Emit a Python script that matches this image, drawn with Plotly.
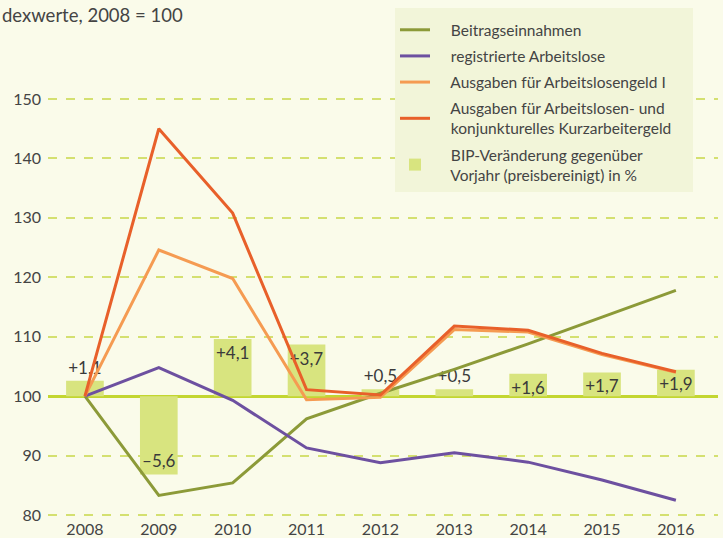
import plotly.graph_objects as go

years = [2008, 2009, 2010, 2011, 2012, 2013, 2014, 2015, 2016]
beitrag = [100, 83.3, 85.4, 96.2, 100.5, 104.5, 108.8, 113.3, 117.8]
arbeitslose = [100, 104.8, 99.3, 91.3, 88.8, 90.5, 88.9, 85.9, 82.5]
alg1 = [100, 124.6, 119.8, 99.4, 99.8, 111.2, 110.8, 107.0, 104.0]
alg_kug = [100, 145.0, 130.8, 101.1, 100.2, 111.8, 111.1, 107.2, 104.1]
bip = [1.1, -5.6, 4.1, 3.7, 0.5, 0.5, 1.6, 1.7, 1.9]
bip_labels = ["+1,1", "–5,6", "+4,1", "+3,7", "+0,5", "+0,5", "+1,6", "+1,7", "+1,9"]
bip_textpos = ["outside", "inside", "inside", "inside", "outside", "outside", "inside", "inside", "inside"]
y_ticks = [80, 90, 100, 110, 120, 130, 140, 150]

FONT = "Lato"
TXT = "#444444"
BG = "#fafbea"
K = 2.35  # index points per % of BIP bar
Y_RANGE = [79.0, 166.66]
PLOT_H = 521
PLOT_W = 670
PAD = "\u00a0" * 4
TAIL = "\u00a0" * 4

fig = go.Figure()

fig.add_trace(go.Bar(
    x=years, y=bip, yaxis="y",
    name=PAD + "BIP-Veränderung gegenüber<br>" + PAD + "Vorjahr (preisbereinigt) in %",
    marker=dict(color="#d8e47f", line=dict(width=0)), width=0.51,
    text=bip_labels, textposition=bip_textpos, insidetextanchor="end",
    constraintext="none", cliponaxis=False, textangle=0,
    textfont=dict(family=FONT, size=17, color="#3a3a3a"),
    legendrank=5, legendgroup="e", hoverinfo="skip",
))

lines = [
    ("Beitragseinnahmen", beitrag, "#8c9a38", 1, "a"),
    ("registrierte Arbeitslose", arbeitslose, "#6d50a0", 2, "b"),
    ("Ausgaben für Arbeitslosengeld I", alg1, "#f59b52", 3, "c"),
    ("Ausgaben für Arbeitslosen- und<br>" + PAD + "konjunkturelles Kurzarbeitergeld" + TAIL, alg_kug, "#e8602a", 4, "d"),
]
for name, vals, col, rank, grp in lines:
    fig.add_trace(go.Scatter(
        x=years, y=vals, yaxis="y2", name=PAD + name, mode="lines",
        line=dict(color=col, width=3), legendrank=rank, legendgroup=grp,
        hoverinfo="skip",
    ))

fig.update_layout(
    width=723, height=538,
    margin=dict(l=48, r=5, t=0, b=538 - PLOT_H),
    paper_bgcolor=BG, plot_bgcolor=BG,
    font=dict(family=FONT, size=15, color=TXT),
    showlegend=True,
    barmode="overlay",
    xaxis=dict(range=[2007.5, 2016.57], tickvals=years, ticktext=[str(y) for y in years],
               showgrid=False, zeroline=False, showline=False, ticks="",
               tickfont=dict(size=16, color=TXT), fixedrange=True, automargin=False,
               ticklabelstandoff=-3),
    yaxis=dict(range=[(Y_RANGE[0] - 100) / K, (Y_RANGE[1] - 100) / K],
               showgrid=False, showticklabels=False, ticks="", showline=False,
               zeroline=True, zerolinecolor="#c3d630", zerolinewidth=3, automargin=False),
    yaxis2=dict(range=Y_RANGE, overlaying="y", side="left", tickvals=y_ticks,
                showgrid=True, gridcolor="#d4e070", griddash="dash", gridwidth=1.5,
                zeroline=False, showline=False, ticks="", ticklabelstandoff=6,
                tickfont=dict(size=16, color=TXT), automargin=False),
    legend=dict(
        x=(395 - 48) / PLOT_W, y=1 - 8 / PLOT_H, xanchor="left", yanchor="top",
        bgcolor="#f2f5d9", borderwidth=0, font=dict(size=15.5, color=TXT),
        traceorder="grouped", tracegroupgap=3, itemwidth=30,
        title=dict(text="\u00a0", font=dict(size=4)),
    ),
    annotations=[dict(
        text="dexwerte, 2008 = 100", xref="paper", yref="paper",
        x=-48 / PLOT_W, y=1 - 2 / PLOT_H, xanchor="left", yanchor="top",
        showarrow=False, font=dict(size=18.5, color=TXT),
    )],
)

fig.write_html("out.html", config={"displayModeBar": False},
               post_script="document.body.style.margin='0';document.body.style.overflow='hidden';")
